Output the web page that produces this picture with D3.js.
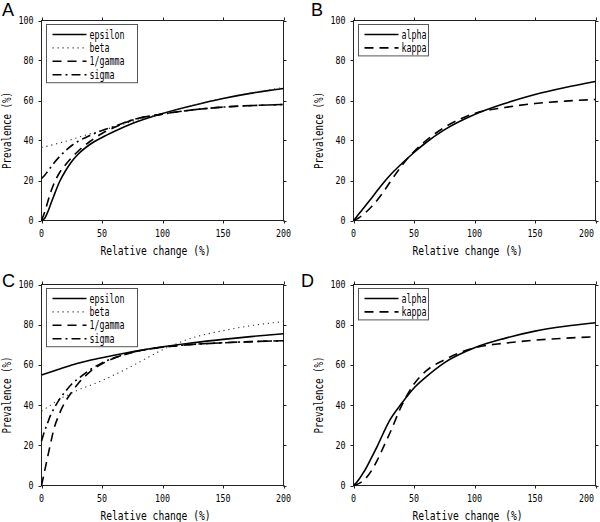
<!DOCTYPE html>
<html><head><meta charset="utf-8">
<script src="https://cdn.jsdelivr.net/npm/d3@7/dist/d3.min.js"></script>
<style>body{margin:0;background:#fff}</style>
</head><body><svg id="chart" width="600" height="522"></svg>
<script>
// ---------- DATA ----------
const xGrid = [0, 2.5, 5, 7.5, 10, 15, 20, 25, 30, 40, 50, 60, 75, 100, 125, 150, 175, 200];
const xTicks = [0, 50, 100, 150, 200];
const yTicks = [0, 20, 40, 60, 80, 100];
const panelLabels = ["A", "B", "C", "D"];
const namesAC = ["epsilon", "beta", "1/gamma", "sigma"];
const namesBD = ["alpha", "kappa"];
const xTitle = "Relative change (%)";
const yTitle = "Prevalence (%)";

// Panel A
const aEpsilon = [0, 1, 4, 8, 12, 19.5, 25, 29.5, 33, 38, 41.5, 44.5, 48.5, 53.5, 57.5, 61, 63.8, 66];
const aBeta    = [36.5, 36.8, 37.2, 37.6, 38, 38.8, 39.6, 40.5, 41.5, 43.3, 45, 46.8, 49.5, 53.5, 57.5, 61.2, 64, 66.5];
const aGamma   = [0, 4, 9, 14, 18, 24, 28, 31.5, 34.5, 39.5, 43.5, 46.5, 50.2, 53.2, 55.3, 56.7, 57.5, 58];
const aSigma   = [21, 22.5, 24.5, 26.5, 28.5, 32, 35, 37.5, 39.5, 42.5, 45, 47, 50.3, 53.2, 55.3, 56.7, 57.5, 58];
// Panel B
const bAlpha = [0, 1.8, 3.7, 5.6, 7.5, 11.3, 15.2, 19, 22.5, 28.5, 34, 39, 45.3, 53, 58.5, 63, 66.5, 69.5];
const bKappa = [0, 0.7, 1.6, 2.8, 4, 7, 10.5, 14.5, 19, 27.5, 34.5, 40, 46.5, 53.5, 56.5, 58.5, 59.7, 60.5];
// Panel C
const cEpsilon = [55, 55.5, 56, 56.5, 57, 58, 59, 59.9, 60.8, 62.3, 63.6, 64.8, 66.5, 69, 71, 72.7, 74.2, 75.5];
const cBeta    = [37, 38, 39, 40, 41, 43, 44.5, 46, 47.5, 49.8, 52.2, 55, 59.5, 67.5, 73.5, 77, 79.7, 81.5];
const cGamma   = [0, 7, 14, 21, 27.5, 36, 42, 46.5, 50.5, 56.5, 60.5, 63.3, 66.2, 68.8, 70.2, 71, 71.6, 72];
const cSigma   = [22, 27, 31, 35, 38, 43, 47, 50.5, 53, 57.5, 61, 63.5, 66.3, 68.8, 70.2, 71, 71.6, 72];
// Panel D
const dAlpha = [0, 1.5, 3.5, 5.8, 8.2, 14, 20, 26.5, 32.5, 41, 48.5, 54, 61, 68.5, 73.2, 76.8, 79.2, 81];
const dKappa = [0, 0.5, 1.2, 2.2, 3.5, 7.5, 13, 19.5, 26, 40, 50.5, 57, 62.5, 68.5, 70.8, 72.3, 73.3, 74];

// ---------- STYLES / LAYOUT ----------
const styles = {
  solid:   {dash: null,        width: 1.6, color: "#000"},
  dotted:  {dash: "1.2,3.8",   width: 1.1, color: "#333"},
  dashed:  {dash: "9,6",       width: 1.6, color: "#000"},
  dashdot: {dash: "9,4,2,4",   width: 1.6, color: "#000"}
};
const panels = [
  {label: panelLabels[0], left: 41.5, right: 283.5, top: 20.5, bottom: 220.5, lab: [2, 16],
   series: [[namesAC[0], aEpsilon, "solid"], [namesAC[1], aBeta, "dotted"], [namesAC[2], aGamma, "dashed"], [namesAC[3], aSigma, "dashdot"]], legW: 91},
  {label: panelLabels[1], left: 353.5, right: 595.5, top: 20.5, bottom: 220.5, lab: [311, 16],
   series: [[namesBD[0], bAlpha, "solid"], [namesBD[1], bKappa, "dashed"]], legW: 70},
  {label: panelLabels[2], left: 41.5, right: 283.5, top: 284.5, bottom: 485.5, lab: [2, 287],
   series: [[namesAC[0], cEpsilon, "solid"], [namesAC[1], cBeta, "dotted"], [namesAC[2], cGamma, "dashed"], [namesAC[3], cSigma, "dashdot"]], legW: 91},
  {label: panelLabels[3], left: 353.5, right: 595.5, top: 284.5, bottom: 485.5, lab: [301, 287],
   series: [[namesBD[0], dAlpha, "solid"], [namesBD[1], dKappa, "dashed"]], legW: 70}
];

const svg = d3.select("#chart");
const MONO = "'DejaVu Sans Mono', 'Liberation Mono', monospace";

function monoText(g, str, x, y, size, charW, anchor) {
  return g.append("text").attr("x", x).attr("y", y)
    .attr("font-family", MONO).attr("font-size", size)
    .attr("text-anchor", anchor).attr("dominant-baseline", "central")
    .attr("textLength", str.length * charW).attr("lengthAdjust", "spacingAndGlyphs")
    .attr("fill", "#000").text(str);
}

panels.forEach(p => {
  const g = svg.append("g");
  const x = d3.scaleLinear().domain([0, 200]).range([p.left, p.right]);
  const y = d3.scaleLinear().domain([0, 100]).range([p.bottom, p.top]);

  // frame
  g.append("rect").attr("x", p.left).attr("y", p.top)
    .attr("width", p.right - p.left).attr("height", p.bottom - p.top)
    .attr("fill", "none").attr("stroke", "#222").attr("stroke-width", 1);

  // ticks (outward on all sides)
  xTicks.forEach(t => {
    const xx = Math.round(x(t)) + 0.5;
    g.append("line").attr("x1", xx).attr("x2", xx).attr("y1", p.bottom).attr("y2", p.bottom + 3).attr("stroke", "#222");
    g.append("line").attr("x1", xx).attr("x2", xx).attr("y1", p.top).attr("y2", p.top - 3).attr("stroke", "#222");
    const w = String(t).length * 5;
    const cxl = Math.min(x(t), 594 - w / 2);
    monoText(g, String(t), cxl, p.bottom + 13, 11, 5, "middle");
  });
  yTicks.forEach(t => {
    const yy = Math.round(y(t)) + 0.5;
    g.append("line").attr("x1", p.left).attr("x2", p.left - 3).attr("y1", yy).attr("y2", yy).attr("stroke", "#222");
    g.append("line").attr("x1", p.right).attr("x2", p.right + 3).attr("y1", yy).attr("y2", yy).attr("stroke", "#222");
    monoText(g, String(t), p.left - 8, y(t), 11, 5, "end");
  });

  // axis titles
  monoText(g, xTitle, (p.left + p.right) / 2 - 7, p.bottom + 29.5, 12.5, 5.8, "middle");
  const cy = (p.top + p.bottom) / 2 + 10, cx = p.left - 35;
  monoText(g, yTitle, cx, cy, 12.5, 5.5, "middle").attr("transform", `rotate(-90,${cx},${cy})`);

  // panel label
  g.append("text").attr("x", p.lab[0]).attr("y", p.lab[1])
    .attr("font-family", "'Liberation Sans', Arial, sans-serif").attr("font-size", 18)
    .attr("fill", "#000").text(p.label);

  // curves
  const line = d3.line().x((d, i) => x(xGrid[i])).y(d => y(d)).curve(d3.curveMonotoneX);
  p.series.forEach(([name, vals, st]) => {
    const s = styles[st];
    g.append("path").datum(vals).attr("d", line)
      .attr("fill", "none").attr("stroke", s.color).attr("stroke-width", s.width)
      .attr("stroke-dasharray", s.dash).attr("stroke-linejoin", "round");
  });

  // legend
  const lx = p.left + 5, ly = p.top + 4;
  const n = p.series.length;
  g.append("rect").attr("x", lx).attr("y", ly).attr("width", p.legW).attr("height", 10 + (n - 1) * 13.4 + 8)
    .attr("fill", "#fff").attr("stroke", "#555").attr("stroke-width", 1);
  p.series.forEach(([name, vals, st], i) => {
    const s = styles[st];
    const ry = ly + 10 + i * 13.4;
    g.append("line").attr("x1", p.left + 11).attr("x2", p.left + 45).attr("y1", ry).attr("y2", ry)
      .attr("stroke", s.color).attr("stroke-width", s.width).attr("stroke-dasharray", s.dash);
    monoText(g, name, p.left + 48, ry, 12, 5, "start");
  });
});
</script></body></html>
